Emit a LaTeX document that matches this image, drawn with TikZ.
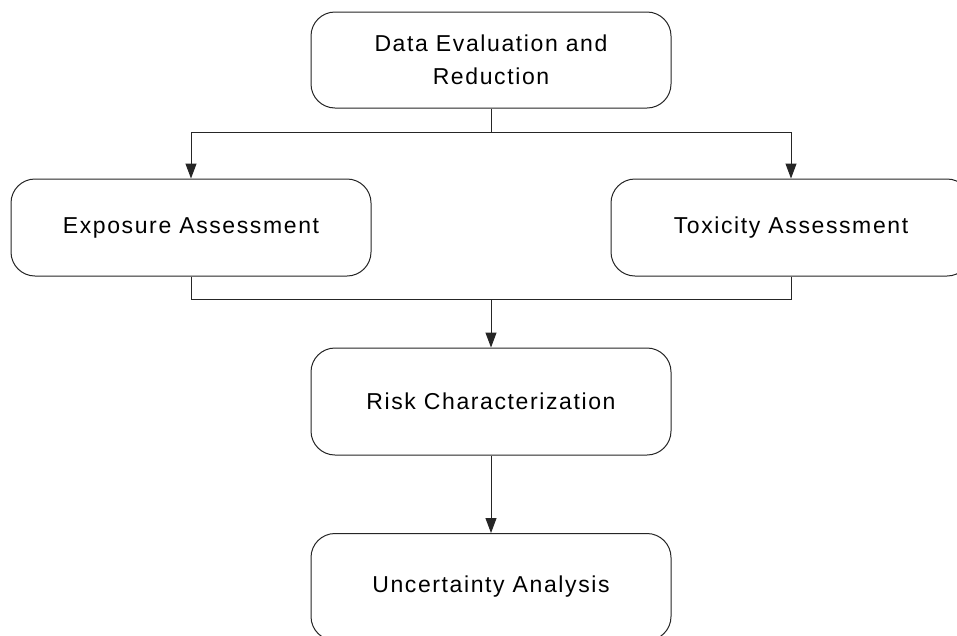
\documentclass[tikz,border=0pt]{standalone}
\usepackage{fontspec}
\setmainfont{Liberation Sans}[LetterSpace=7]
\usetikzlibrary{arrows.meta}

\begin{document}
\begin{tikzpicture}[x=1pt,y=-1pt,
  stage/.style={draw=black!85, line width=1pt, rounded corners=24pt,
    minimum width=360pt, inner sep=0pt, align=center,
    font=\fontsize{23}{33}\selectfont},
  link/.style={draw=black!85, line width=1pt},
  flow/.style={link, -{Triangle[width=11pt,length=15pt]}}]
  % page frame: the right-hand box runs past the edge and is cut off
  \clip (0,0) rectangle (957,635);
  \fill[white] (0,0) rectangle (957,635);

  % stages of the assessment
  \node[stage, minimum height=96pt]  (data) at (491,60)  {Data Evaluation and\\Reduction};
  \node[stage, minimum height=97pt]  (expo) at (191,227.5) {Exposure Assessment};
  \node[stage, minimum height=97pt]  (toxi) at (791,227.5) {Toxicity Assessment};
  \node[stage, minimum height=107pt] (risk) at (491,401.5) {Risk Characterization};
  \node[stage, minimum height=107pt] (unc)  at (491,587)   {Uncertainty Analysis};

  % split from data evaluation into the two assessments
  \coordinate (split) at (491,132);
  \draw[link] (data.south) -- (split);
  \draw[flow] (split) -| (expo.north);
  \draw[flow] (split) -| (toxi.north);

  % join of the two assessments into risk characterization
  \coordinate (join) at (491,299);
  \draw[link] (expo.south) |- (join);
  \draw[link] (toxi.south) |- (join);
  \draw[flow] (join) -- (risk.north);

  \draw[flow] (risk.south) -- (unc.north);
\end{tikzpicture}
\end{document}
